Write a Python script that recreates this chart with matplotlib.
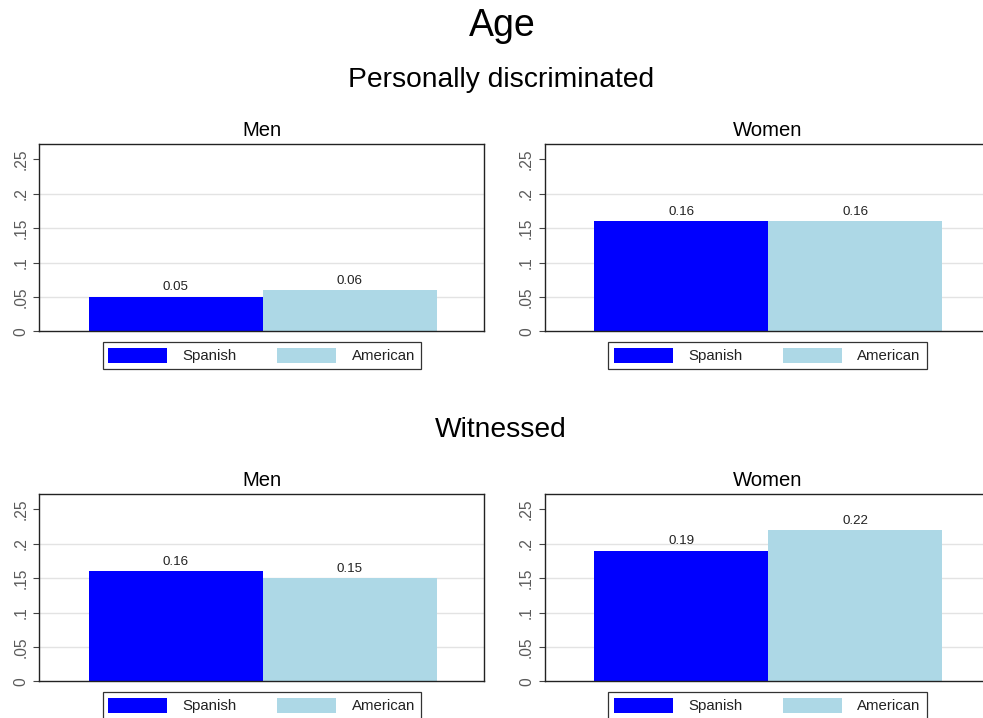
import matplotlib
matplotlib.use('Agg')
import matplotlib.pyplot as plt
from matplotlib.patches import Patch

plt.rcParams['font.family'] = ['Liberation Sans', 'DejaVu Sans']

groups = ['Spanish', 'American']
colors = ['#0000FF', '#ADD8E6']
sections = ['Personally discriminated', 'Witnessed']
panels = ['Men', 'Women']

# values[section][panel] -> [Spanish, American]
personal_men = [0.05, 0.06]
personal_women = [0.16, 0.16]
witnessed_men = [0.16, 0.15]
witnessed_women = [0.19, 0.22]
values = [[personal_men, personal_women], [witnessed_men, witnessed_women]]

yticks = [0, 0.05, 0.1, 0.15, 0.2, 0.25]
yticklabels = ['0', '.05', '.1', '.15', '.2', '.25']

fig = plt.figure(figsize=(9.83, 7.18), dpi=100)

W, H = 983, 718
ax_left = [39.3, 545.0]
ax_top = [144.3, 494.3]
ax_w, ax_h = 445.0, 187.0

fig.text(502 / W, 1 - 26 / H, 'Age', ha='center', va='center', fontsize=27)
sec_y = [80, 430]
for s, name in enumerate(sections):
    fig.text(501 / W, 1 - sec_y[s] / H, name, ha='center', va='center', fontsize=20.3)

for s in range(2):
    for p in range(2):
        ax = fig.add_axes([ax_left[p] / W, 1 - (ax_top[s] + ax_h) / H, ax_w / W, ax_h / H])
        vals = values[s][p]
        for i, (g, v) in enumerate(zip(groups, vals)):
            ax.bar(i, v, width=1.0, color=colors[i], label=g, zorder=2)
            ax.annotate(f'{v:.2f}', (i, v), xytext=(0, 2.5), textcoords='offset points',
                        ha='center', va='bottom', fontsize=9.6, color='#222222')
        ax.set_xlim(-0.784, 1.773)
        ax.set_ylim(0, 0.272)
        ax.set_yticks(yticks)
        ax.set_yticklabels(yticklabels, rotation=90, va='center', color='#5a5a5a', fontsize=11.2)
        ax.set_xticks([])
        for yv in yticks[1:-1]:
            ax.axhline(yv, color='#E3E3E3', linewidth=1.0, zorder=1)
        ax.tick_params(axis='y', length=4.5, width=0.8, color='#444444', pad=3.5)
        for sp in ax.spines.values():
            sp.set_color('#222222')
            sp.set_linewidth(1.0)
        ax.set_title(panels[p], fontsize=14.6, pad=6)
        handles = [Patch(facecolor=c, edgecolor='none') for c in colors]
        leg = ax.legend(handles, groups, ncol=2, loc='upper center',
                        bbox_to_anchor=(0.5, -0.058), fontsize=10.8, frameon=True,
                        fancybox=False, edgecolor='black', handlelength=3.9,
                        handleheight=1.15, handletextpad=1.05, columnspacing=2.7,
                        borderpad=0.38, borderaxespad=0)
        leg.get_frame().set_linewidth(0.9)
        for t in leg.get_texts():
            t.set_color('#222222')

fig.savefig('out.png', dpi=100)
